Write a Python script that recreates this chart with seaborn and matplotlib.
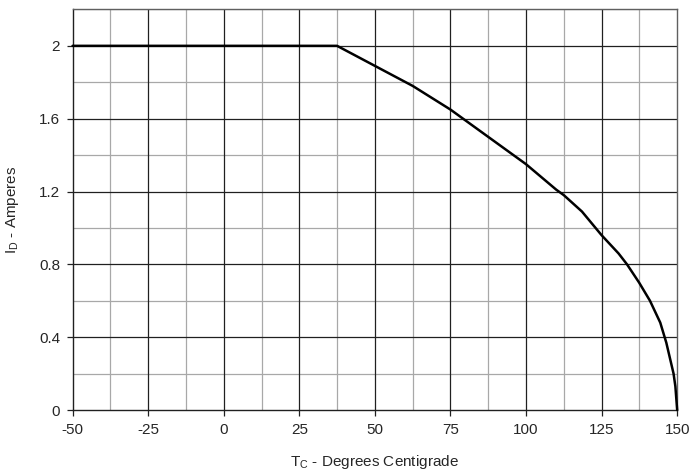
import numpy as np
import pandas as pd
import matplotlib
matplotlib.use("Agg")
import matplotlib.pyplot as plt
import seaborn as sns

# derating curve
temp_c = [-50, 37.5, 50, 62.5, 75, 87.5, 100, 110, 112.5, 118.5,
          125, 130.6, 133.4, 137.4, 141, 144.4, 146.4, 148.8, 149.4, 150]
current_a = [2.0, 2.0, 1.89, 1.78, 1.65, 1.50, 1.35, 1.21, 1.18, 1.09,
             0.96, 0.86, 0.80, 0.70, 0.60, 0.48, 0.37, 0.20, 0.13, 0.0]

x_ticks = [-50, -25, 0, 25, 50, 75, 100, 125, 150]
y_ticks = [0, 0.4, 0.8, 1.2, 1.6, 2.0]
y_labels = ["0", "0.4", "0.8", "1.2", "1.6", "2"]

sns.set_theme(style="white")
plt.rcParams["font.family"] = ["Liberation Sans", "DejaVu Sans"]
plt.rcParams["mathtext.fontset"] = "custom"
plt.rcParams["mathtext.rm"] = "Liberation Sans"
plt.rcParams["mathtext.default"] = "regular"

df = pd.DataFrame({"T": temp_c, "I": current_a})

fig = plt.figure(figsize=(6.91, 4.71), dpi=100)
ax = fig.add_axes([0.105, 0.1295, 0.875, 0.8505])

# grid: minor lighter, major darker
for xv in np.arange(-37.5, 150, 25):
    ax.axvline(xv, color="#a8a8a8", lw=0.9, zorder=1)
for yv in np.arange(0.2, 2.21, 0.4):
    ax.axhline(yv, color="#a8a8a8", lw=0.9, zorder=1)
for xv in x_ticks[1:-1]:
    ax.axvline(xv, color="#202020", lw=0.9, zorder=1)
for yv in y_ticks[1:]:
    ax.axhline(yv, color="#202020", lw=0.9, zorder=1)

sns.lineplot(data=df, x="T", y="I", color="black", lw=1.8, ax=ax,
             zorder=3, clip_on=False)

ax.set_xlim(-50, 150)
ax.set_ylim(0, 2.2)
ax.set_xticks(x_ticks)
ax.set_xticklabels([str(v) for v in x_ticks])
ax.set_yticks(y_ticks)
ax.set_yticklabels(y_labels)
ax.tick_params(axis="both", direction="out", length=4, width=0.9,
               color="#202020", labelsize=11, pad=5,
               bottom=True, left=True)
for s in ax.spines.values():
    s.set_color("#202020")
    s.set_linewidth(1.0)
ax.spines["top"].set_color("#606060")
ax.spines["right"].set_color("#606060")

ax.set_xlabel("$T_C$ - Degrees Centigrade", fontsize=11, labelpad=12)
ax.set_ylabel("$I_D$ - Amperes", fontsize=11, labelpad=13)

fig.savefig("out.png", dpi=100)
